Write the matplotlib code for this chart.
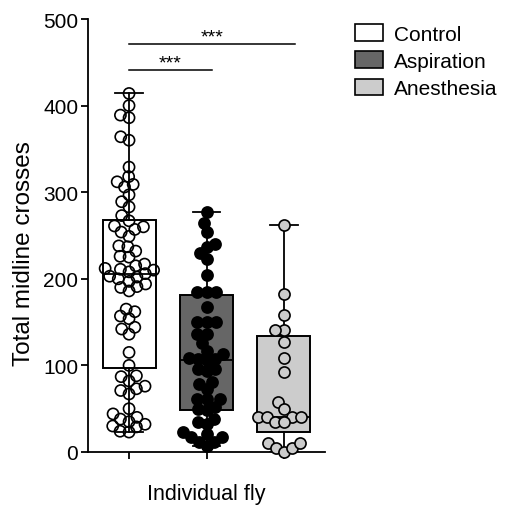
import numpy as np
import matplotlib
matplotlib.use("Agg")
import matplotlib.pyplot as plt
from matplotlib.patches import Patch

plt.rcParams['font.family'] = ['Liberation Sans', 'DejaVu Sans']

groups = ["Control", "Aspiration", "Anesthesia"]
control = [414, 400, 389, 386, 364, 360, 329, 318, 312, 309, 306, 297, 289, 283,
           273, 267, 261, 260, 257, 254, 249, 238, 237, 232, 226, 225, 217, 215,
           212, 211, 210, 208, 206, 203, 202, 200, 197, 194, 191, 190, 186, 165,
           162, 157, 154, 144, 142, 136, 115, 100, 88, 87, 82, 76, 73, 71, 67,
           50, 44, 40, 38, 35, 32, 30, 29, 24, 23]
aspiration = [277, 264, 254, 240, 237, 230, 223, 204, 185, 185, 185, 167, 150,
              150, 150, 136, 136, 126, 117, 113, 108, 107, 107, 106, 96, 96, 94,
              81, 79, 73, 61, 61, 61, 52, 50, 49, 38, 35, 32, 23, 21, 17, 17,
              12, 12, 7]
anesthesia = [262, 182, 158, 141, 141, 127, 108, 92, 58, 50, 40, 40, 40, 40,
              35, 35, 10, 5, 0, 5, 10]

# box statistics
q1 = [97, 48, 23]
med = [206, 106, 40]
q3 = [268, 181, 134]
whislo = [23, 7, 0]
whishi = [414, 277, 262]

sig_start = [1, 1]
sig_end = [3.14, 2.07]
sig_heights = [471, 441]
sig_labels = ["***", "***"]

box_colors = ["white", "#666666", "#cccccc"]
point_face = ["none", "black", "#cccccc"]

fig = plt.figure(figsize=(5.19, 5.06), dpi=100)
ax = fig.add_axes([88/519, 1-453/506, (325-88)/519, (453-20)/506])
ax.set_xlim(0.47, 3.53)
ax.set_ylim(0, 500)

stats = []
for i in range(3):
    stats.append(dict(med=med[i], q1=q1[i], q3=q3[i], whislo=whislo[i],
                      whishi=whishi[i], fliers=[]))
bp = ax.bxp(stats, positions=[1, 2, 3], widths=0.685, capwidths=0.36,
            patch_artist=True, showfliers=False,
            boxprops=dict(linewidth=1.4, edgecolor='black'),
            medianprops=dict(color='black', linewidth=1.3),
            whiskerprops=dict(color='black', linewidth=1.3),
            capprops=dict(color='black', linewidth=1.3))
for patch, c in zip(bp['boxes'], box_colors):
    patch.set_facecolor(c)
    patch.set_zorder(1)

# beeswarm in pixel space
fig.canvas.draw()
def swarm(values, xc, diam):
    vals = np.asarray(values, dtype=float)
    pts = ax.transData.transform(np.column_stack([np.full(len(vals), xc), vals]))
    order = np.argsort(vals)
    placed = []
    xs = np.zeros(len(vals))
    for idx in order:
        y = pts[idx, 1]
        cands = [0.0]
        near = [(px, py) for (px, py) in placed if abs(py - y) < diam]
        for px, py in near:
            dx = np.sqrt(max(diam**2 - (py - y)**2, 0)) + 0.01
            cands += [px + dx, px - dx]
        cands = sorted(cands, key=lambda c: (abs(c), c))
        for c in cands:
            ok = all((c - px)**2 + (y - py)**2 >= diam**2 - 1e-6 for px, py in near)
            if ok:
                xs[idx] = c
                placed.append((c, y))
                break
    xpix = pts[:, 0] + xs
    back = ax.transData.inverted().transform(np.column_stack([xpix, pts[:, 1]]))
    return back[:, 0], vals

data = [control, aspiration, anesthesia]
for i, vals in enumerate(data):
    xs, ys = swarm(vals, i + 1, 9.0)
    ax.scatter(xs, ys, s=64, facecolors=point_face[i], edgecolors='black',
               linewidths=1.2, zorder=3, clip_on=False)

for a, b, h, lab in zip(sig_start, sig_end, sig_heights, sig_labels):
    ax.plot([a, b], [h, h], color='black', linewidth=1.1)
    ax.text((a + b) / 2, h - 2, lab, ha='center', va='bottom', fontsize=14)

for s in ['top', 'right']:
    ax.spines[s].set_visible(False)
for s in ['left', 'bottom']:
    ax.spines[s].set_linewidth(1.3)
ax.set_yticks([0, 100, 200, 300, 400, 500])
ax.set_xticks([1, 2, 3])
ax.set_xticklabels([])
ax.tick_params(axis='both', direction='out', length=5, width=1.3, labelsize=15, pad=2)
ax.set_ylabel("Total midline crosses", fontsize=17.5)
ax.yaxis.set_label_coords(-0.225, 0.46)
ax.set_xlabel("Individual fly", fontsize=15.5, labelpad=15)

handles = [Patch(facecolor=c, edgecolor='black', linewidth=1.2) for c in box_colors]
fig.legend(handles, groups, loc='upper left', bbox_to_anchor=(355/519, 1-25/506),
           frameon=False, fontsize=15, handlelength=1.35, handleheight=0.85,
           handletextpad=0.5, labelspacing=0.38, borderpad=0, borderaxespad=0)

fig.savefig("out.png", dpi=100)
